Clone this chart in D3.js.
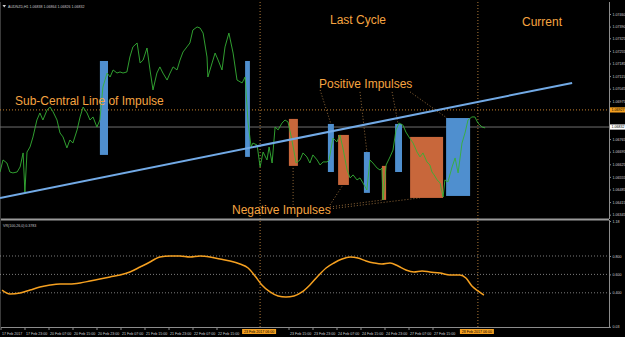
<!DOCTYPE html>
<html>
<head>
<meta charset="utf-8">
<script src="https://cdn.jsdelivr.net/npm/d3@7"></script>
<style>
  html, body { margin: 0; padding: 0; background: #000; }
  svg { display: block; }
</style>
</head>
<body>
<div id="chart"></div>
<script>
// ---- data (hours from 17 Feb 15:00, AUDNZD H1 closes) ----
const hours = [0, 1, 2.3, 3.3, 4.3, 5.7, 6.7, 7.7, 8.3, 9, 10, 11, 12.3, 13.3, 14.3, 15.7, 16.7, 17.7, 19, 20,
  21, 22.3, 23.3, 24.3, 25.7, 26.7, 27.7, 29, 30, 31, 32.3, 33.3, 34.3, 35.7, 36.7, 37.7, 39, 40, 41, 42.3,
  43.3, 44.3, 45.7, 46.7, 47.7, 49, 50, 51, 52.3, 53.3, 54.3, 55.7, 56.7, 57.7, 59, 60, 61, 62.3, 63.3, 64.3,
  65.7, 66.7, 67.7, 69, 69.3, 70.7, 71.7, 72.7, 74, 75, 76.3, 77.7, 79, 80.7, 81.7, 82.7, 83.7, 84.3, 85.7, 86.7,
  87.7, 89, 89.7, 90.7, 91.7, 92.7, 94, 95, 96, 97.3, 98.7, 100, 101, 102.3, 103.3, 104.3, 105.7, 106.7, 107.7, 109,
  109.7, 110.7, 111, 112.3, 113.3, 114.3, 115.7, 116.7, 117.7, 119, 120, 121, 122.3, 123.3, 124.3, 125.7, 126.7, 127.3, 127.7, 128.7,
  130, 131, 132, 133, 134.3, 135.3, 136.3, 137.7, 139, 140, 141, 142.3, 143.3, 144, 144.7, 145.7, 146.7, 147.7, 148.3, 149.3,
  150.7, 151.7, 152.7, 154, 155, 156, 157.3, 158.3, 159.3, 160.7, 161.7];
const closes = [1.06582, 1.06649, 1.06632, 1.06582, 1.06577, 1.06582, 1.06610, 1.06688, 1.06471, 1.06693, 1.06721, 1.06777, 1.06871, 1.06910, 1.06871, 1.06927, 1.06943, 1.06916, 1.06871, 1.06799,
  1.06777, 1.06716, 1.06760, 1.06743, 1.06816, 1.06888, 1.06943, 1.06910, 1.06871, 1.06888, 1.06832, 1.06871, 1.07054, 1.07132, 1.07110, 1.07149, 1.07132, 1.07138, 1.07132, 1.07138,
  1.07221, 1.07277, 1.07299, 1.07188, 1.07204, 1.07271, 1.07149, 1.07038, 1.07132, 1.07166, 1.07132, 1.07093, 1.07132, 1.07166, 1.07149, 1.07204, 1.07249, 1.07277, 1.07299, 1.07371,
  1.07388, 1.07382, 1.07354, 1.07221, 1.07110, 1.07188, 1.07243, 1.07204, 1.07149, 1.07277, 1.07354, 1.07243, 1.07093, 1.07077, 1.07110, 1.06854, 1.06721, 1.06743, 1.06732, 1.06610,
  1.06693, 1.06649, 1.06721, 1.06632, 1.06832, 1.06816, 1.06854, 1.06871, 1.06860, 1.06760, 1.06632, 1.06649, 1.06688, 1.06666, 1.06632, 1.06677, 1.06649, 1.06621, 1.06638, 1.06638,
  1.06649, 1.06743, 1.06771, 1.06749, 1.06788, 1.06716, 1.06593, 1.06549, 1.06566, 1.06538, 1.06549, 1.06521, 1.06482, 1.06649, 1.06632, 1.06604, 1.06593, 1.06604, 1.06427, 1.06621,
  1.06666, 1.06704, 1.06816, 1.06854, 1.06843, 1.06804, 1.06777, 1.06743, 1.06693, 1.06666, 1.06688, 1.06638, 1.06621, 1.06582, 1.06566, 1.06538, 1.06521, 1.06443, 1.06538, 1.06527,
  1.06610, 1.06660, 1.06577, 1.06743, 1.06799, 1.06871, 1.06888, 1.06888, 1.06854, 1.06832, 1.06827];

// indicator VR(100,26,0)
const indHours = [0.7, 3.3, 6.7, 10, 13.3, 16.7, 20, 23.3, 26.7, 30, 33.3, 36.7, 40, 43.3, 46.7, 50, 51.7, 53.3, 56.7, 60,
  63.3, 66.7, 70, 73.3, 76.7, 80, 82.7, 85, 87.3, 90, 92.7, 95.3, 98, 100.7, 103.3, 106, 108.7, 111.3, 114, 116.7,
  119.3, 122, 124.7, 127.3, 130, 132.7, 135.3, 138, 140.7, 143.3, 146.7, 150, 153.3, 155.3, 157.3, 159.3, 161.3];
const indValues = [0.430, 0.387, 0.398, 0.430, 0.463, 0.485, 0.496, 0.496, 0.507, 0.528, 0.550, 0.572, 0.593, 0.626, 0.680, 0.735, 0.767, 0.789, 0.800, 0.800,
  0.789, 0.800, 0.789, 0.767, 0.746, 0.713, 0.670, 0.583, 0.485, 0.409, 0.365, 0.354, 0.365, 0.409, 0.485, 0.583, 0.670, 0.724, 0.767, 0.789,
  0.778, 0.746, 0.724, 0.713, 0.724, 0.691, 0.648, 0.626, 0.637, 0.626, 0.615, 0.593, 0.593, 0.561, 0.474, 0.420, 0.376];
const indLevels = [0.8, 0.6, 0.4];

// impulse boxes: [startHour, endHour, high, low]
const positiveImpulses = [[33.3, 36, 1.07199, 1.06677], [81.7, 83.3, 1.07199, 1.06666], [109.3, 111.3, 1.06849, 1.06582],
  [121.3, 123.3, 1.06693, 1.06466], [131.7, 134, 1.06849, 1.06582], [148.7, 156.7, 1.06882, 1.06449]];
const negativeImpulses = [[96.3, 99.3, 1.06877, 1.06616], [112.7, 116.3, 1.06788, 1.06510],
  [127.3, 128.7, 1.06616, 1.06427], [136.7, 147.7, 1.06777, 1.06438]];

// sub-central line of impulse: [hour, price]
const subCentralLine = [[0, 1.06438], [190.7, 1.07077]];
const cycleMarkers = [86.7, 159.3];
const cycleMarkerLabels = ['23 Feb 2017 06:00', '28 Feb 2017 06:00'];
const levelPrice = 1.06927;
const lastPrice = 1.06832;

// annotation pointers: [[hour, price], [hour, price]]
const positivePointers = [[[106.7, 1.07038], [110.3, 1.06849]], [[120, 1.07027], [122.3, 1.06693]],
  [[130.7, 1.07027], [132.7, 1.06849]], [[136.7, 1.07027], [149, 1.06882]]];
const negativePointers = [[[97.7, 1.06399], [97.7, 1.06616]], [[110, 1.06399], [114.3, 1.06510]],
  [[110, 1.06388], [127.7, 1.06427]], [[110, 1.06377], [140, 1.06438]]];

// axis ticks (labels hidden under the cycle tags are left out)
const priceTicks = [1.07460, 1.07390, 1.07325, 1.07255, 1.07185, 1.07115, 1.07045, 1.06975,
  1.06765, 1.06695, 1.06625, 1.06555, 1.06485, 1.06415, 1.06345];
const timeTicks = [0, 8, 16, 24, 32, 40, 48, 56, 64, 72, 96, 104, 112, 120, 128, 136, 144];
const timeLabels = ['17 Feb 2017', '17 Feb 23:00', '20 Feb 07:00', '20 Feb 15:00', '20 Feb 23:00', '21 Feb 07:00',
  '21 Feb 15:00', '21 Feb 23:00', '22 Feb 07:00', '22 Feb 15:00', '23 Feb 15:00',
  '23 Feb 23:00', '24 Feb 07:00', '24 Feb 15:00', '24 Feb 23:00', '27 Feb 07:00', '27 Feb 15:00'];
const indTicks = [1.18, 0.8, 0.6, 0.4, 0.03];
const indTickLabels = ['1.18', '0.800', '0.600', '0.400', '0.03'];

// ---- layout ----
const W = 625, H = 337;
const plotRight = 609;
const orange = '#f6a440';
const axisGray = '#8c8c8c';
const tickFont = 'Liberation Sans, Arial, sans-serif';

const svg = d3.select('#chart').append('svg')
  .attr('width', W)
  .attr('height', H)
  .style('background', '#000');

const x = d3.scaleLinear().domain([0, 203]).range([0, plotRight]);
const y = d3.scaleLinear().domain([1.06332, 1.07510]).range([217, 5]);
const yInd = d3.scaleLinear().domain([0.0283, 1.1804]).range([327, 221]);

// panel frame
svg.append('line').attr('x1', 0).attr('x2', plotRight).attr('y1', 219.5).attr('y2', 219.5)
  .attr('stroke', '#9a9a9a').attr('stroke-width', 2);
svg.append('line').attr('x1', 0).attr('x2', plotRight).attr('y1', 327.5).attr('y2', 327.5)
  .attr('stroke', axisGray);
svg.append('line').attr('x1', 0.5).attr('x2', 0.5).attr('y1', 2).attr('y2', 328)
  .attr('stroke', '#3a3a3a');

// level and last-price lines
svg.append('line')
  .attr('x1', 0).attr('x2', plotRight)
  .attr('y1', y(levelPrice)).attr('y2', y(levelPrice))
  .attr('stroke', '#c9822e').attr('stroke-dasharray', '1,2');
svg.append('line')
  .attr('x1', 0).attr('x2', plotRight)
  .attr('y1', y(lastPrice)).attr('y2', y(lastPrice))
  .attr('stroke', '#6e6e6e');

// cycle separators
cycleMarkers.forEach(h => {
  svg.append('line')
    .attr('x1', x(h)).attr('x2', x(h))
    .attr('y1', 2).attr('y2', 327)
    .attr('stroke', '#b07a3a').attr('stroke-dasharray', '1,2');
});

// impulse boxes
svg.append('g').selectAll('rect')
  .data(negativeImpulses)
  .enter()
  .append('rect')
  .attr('x', d => x(d[0]))
  .attr('y', d => y(d[2]))
  .attr('width', d => x(d[1]) - x(d[0]))
  .attr('height', d => y(d[3]) - y(d[2]))
  .attr('fill', '#c8673b');

svg.append('g').selectAll('rect')
  .data(positiveImpulses)
  .enter()
  .append('rect')
  .attr('x', d => x(d[0]))
  .attr('y', d => y(d[2]))
  .attr('width', d => x(d[1]) - x(d[0]))
  .attr('height', d => y(d[3]) - y(d[2]))
  .attr('fill', '#4f8fcf');

// pointers from labels to boxes
svg.append('g').selectAll('line')
  .data(positivePointers.concat(negativePointers))
  .enter()
  .append('line')
  .attr('x1', d => x(d[0][0])).attr('y1', d => y(d[0][1]))
  .attr('x2', d => x(d[1][0])).attr('y2', d => y(d[1][1]))
  .attr('stroke', '#b88448')
  .attr('stroke-width', 0.8)
  .attr('stroke-dasharray', '1,2');

// price line
const priceLine = d3.line()
  .x((d, i) => x(hours[i]))
  .y(d => y(d));
svg.append('path')
  .datum(closes)
  .attr('d', priceLine)
  .attr('fill', 'none')
  .attr('stroke', '#35b035')
  .attr('stroke-width', 0.9);

// sub-central line
svg.append('line')
  .attr('x1', x(subCentralLine[0][0])).attr('y1', y(subCentralLine[0][1]))
  .attr('x2', x(subCentralLine[1][0])).attr('y2', y(subCentralLine[1][1]))
  .attr('stroke', '#72aae6')
  .attr('stroke-width', 2);

// annotations
const notes = [
  { text: 'Last Cycle', x: 358, y: 24, anchor: 'middle' },
  { text: 'Current', x: 542, y: 26, anchor: 'middle' },
  { text: 'Sub-Central Line of Impulse', x: 15, y: 105, anchor: 'start' },
  { text: 'Positive Impulses', x: 319, y: 88, anchor: 'start' },
  { text: 'Negative Impulses', x: 232, y: 214, anchor: 'start' }
];
svg.append('g').selectAll('text')
  .data(notes)
  .enter()
  .append('text')
  .attr('x', d => d.x)
  .attr('y', d => d.y)
  .attr('text-anchor', d => d.anchor)
  .attr('fill', orange)
  .style('font-family', 'Liberation Sans, Arial, sans-serif')
  .style('font-size', '12px')
  .text(d => d.text);

// indicator levels
svg.append('g').selectAll('line')
  .data(indLevels)
  .enter()
  .append('line')
  .attr('x1', 0).attr('x2', plotRight)
  .attr('y1', d => yInd(d)).attr('y2', d => yInd(d))
  .attr('stroke', '#b0b0b0')
  .attr('stroke-width', 0.7)
  .attr('stroke-dasharray', '1,2');

// indicator line
const indLine = d3.line()
  .x((d, i) => x(indHours[i]))
  .y(d => yInd(d))
  .curve(d3.curveMonotoneX);
svg.append('path')
  .datum(indValues)
  .attr('d', indLine)
  .attr('fill', 'none')
  .attr('stroke', '#f5a020')
  .attr('stroke-width', 1.5);

// headers
svg.append('text')
  .attr('x', 8).attr('y', 8)
  .attr('fill', '#c8c8c8')
  .style('font-family', tickFont)
  .style('font-size', '3.6px')
  .text('AUDNZD,H1  1.06838 1.06864 1.06826 1.06832');
svg.append('path')
  .attr('d', 'M2.5,5 L6,5 L4.25,7.5 Z')
  .attr('fill', '#d0d0d0');
svg.append('text')
  .attr('x', 3).attr('y', 227)
  .attr('fill', '#c8c8c8')
  .style('font-family', tickFont)
  .style('font-size', '3.6px')
  .text('VR(100,26,0)  0.3783');

// price axis
const yAxis = svg.append('g')
  .attr('transform', `translate(${plotRight},0)`)
  .call(d3.axisRight(y).tickValues(priceTicks).tickFormat(d3.format('.5f')).tickSize(2).tickSizeOuter(0).tickPadding(1.5));
yAxis.select('.domain').attr('stroke', axisGray).attr('d', 'M0.5,2V219');
yAxis.selectAll('line').attr('stroke', axisGray);
yAxis.selectAll('text').attr('fill', '#d0d0d0').style('font-family', tickFont).style('font-size', '3.6px');

// indicator axis
const indAxis = svg.append('g')
  .attr('transform', `translate(${plotRight},0)`)
  .call(d3.axisRight(yInd).tickValues(indTicks).tickFormat((d, i) => indTickLabels[i]).tickSize(2).tickSizeOuter(0).tickPadding(1.5));
indAxis.select('.domain').attr('stroke', axisGray).attr('d', 'M0.5,220V328');
indAxis.selectAll('line').attr('stroke', axisGray);
indAxis.selectAll('text').attr('fill', '#d0d0d0').style('font-family', tickFont).style('font-size', '3.6px');

// value tags on the price axis
const tags = [
  { price: levelPrice, fill: '#f5a020', color: '#000', label: d3.format('.5f')(levelPrice) },
  { price: lastPrice, fill: '#ffffff', color: '#000', label: d3.format('.5f')(lastPrice) }
];
tags.forEach(t => {
  svg.append('rect')
    .attr('x', plotRight + 1).attr('y', y(t.price) - 2.6)
    .attr('width', 15).attr('height', 5.2)
    .attr('fill', t.fill);
  svg.append('text')
    .attr('x', plotRight + 2.5).attr('y', y(t.price) + 1.3)
    .attr('fill', t.color)
    .style('font-family', tickFont)
    .style('font-size', '3.6px')
    .text(t.label);
});

// time axis
const xAxis = svg.append('g')
  .attr('transform', 'translate(0,328)')
  .call(d3.axisBottom(x).tickValues(timeTicks).tickFormat((d, i) => timeLabels[i]).tickSize(2).tickSizeOuter(0).tickPadding(2));
xAxis.select('.domain').remove();
xAxis.selectAll('line').attr('stroke', axisGray).attr('transform', 'translate(0.5,0)');
xAxis.selectAll('text')
  .attr('fill', '#d0d0d0')
  .attr('text-anchor', 'start')
  .attr('dx', 1.5)
  .style('font-family', tickFont)
  .style('font-size', '3.6px');

// cycle marker tags on the time axis
cycleMarkers.forEach((h, i) => {
  svg.append('rect')
    .attr('x', x(h) - 18).attr('y', 329)
    .attr('width', 34).attr('height', 5)
    .attr('fill', '#f5a020');
  svg.append('text')
    .attr('x', x(h) - 1).attr('y', 333)
    .attr('text-anchor', 'middle')
    .attr('fill', '#000')
    .style('font-family', tickFont)
    .style('font-size', '3.6px')
    .text(cycleMarkerLabels[i]);
});
</script>
</body>
</html>
